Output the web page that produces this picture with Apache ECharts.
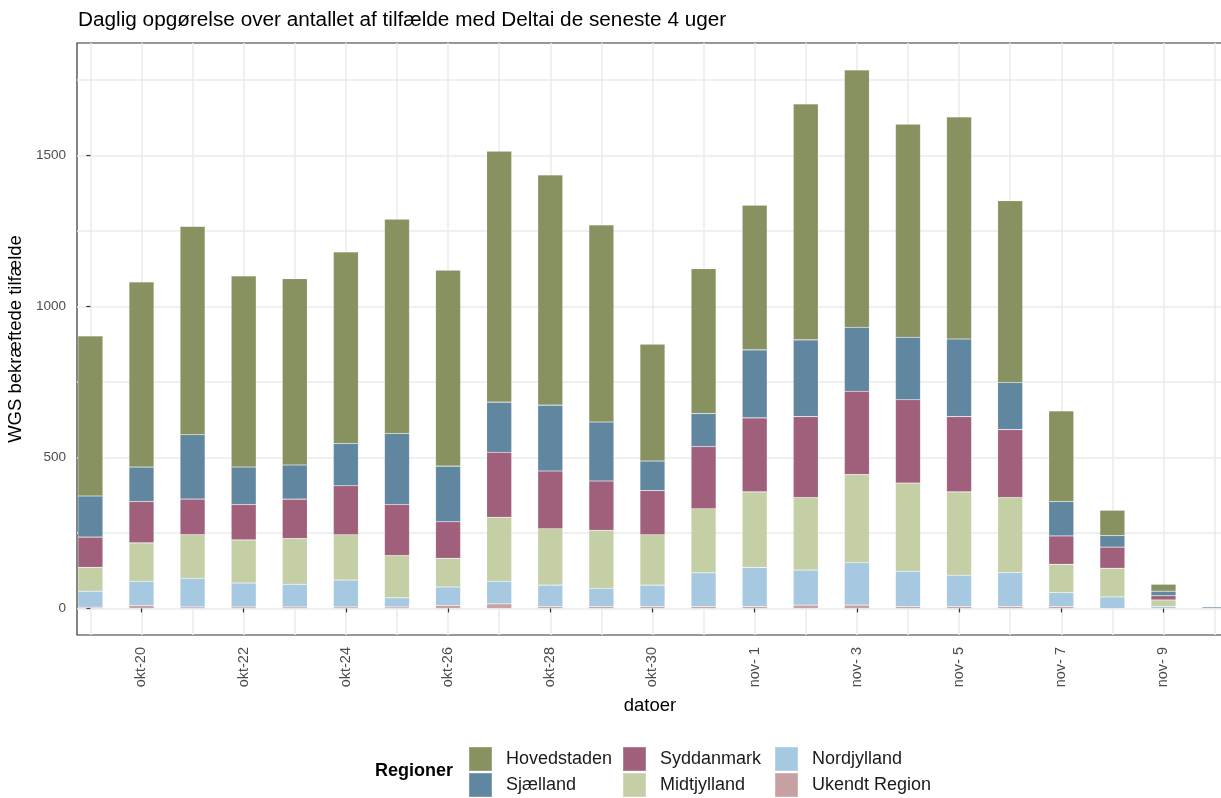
<!DOCTYPE html>
<html>
<head>
<meta charset="utf-8">
<script src="https://cdn.jsdelivr.net/npm/echarts@6/dist/echarts.min.js"></script>
<style>
html,body{margin:0;padding:0;background:#fff;}
#chart{width:1221px;height:798px;}
</style>
</head>
<body>
<div id="chart"></div>
<script>
// ---- data ----
var dates = ["okt-19","okt-20","okt-21","okt-22","okt-23","okt-24","okt-25","okt-26","okt-27","okt-28","okt-29","okt-30","okt-31",
             "nov- 1","nov- 2","nov- 3","nov- 4","nov- 5","nov- 6","nov- 7","nov- 8","nov- 9","nov-10"];
var tickLabels = ["okt-20","okt-22","okt-24","okt-26","okt-28","okt-30","nov- 1","nov- 3","nov- 5","nov- 7","nov- 9"];
var yTickValues = [0, 500, 1000, 1500];
var yGridValues = [0, 250, 500, 750, 1000, 1250, 1500, 1750];

var hovedstaden = [530,613,690,633,617,634,710,649,831,762,653,387,480,479,781,852,705,735,602,300,84,23,0];
var sjaelland   = [136,114,213,124,113,140,235,184,166,218,195,98,109,225,254,212,207,257,156,114,38,15,5];
var syddanmark  = [100,137,118,117,131,162,169,121,215,191,163,146,206,245,268,276,276,249,225,94,70,14,0];
var midtjylland = [79,127,144,143,151,150,140,95,212,187,192,167,212,250,240,292,292,276,248,94,95,22,0];
var nordjylland = [53,80,95,79,75,89,30,61,75,71,61,71,112,130,116,140,117,104,113,46,38,6,0];
var ukendt      = [4,10,5,5,5,5,5,10,15,6,6,6,6,6,11,11,6,6,6,6,0,0,0];

// ---- build ----
var xMin = -0.262, xMax = 22.165;
var dayIdx = dates.map(function(d, i){ return i; });
var tickIdx = tickLabels.map(function(t){ return dates.indexOf(t); });

var regions = [
  {name: "Ukendt Region", data: ukendt,      color: "#c6a0a3"},
  {name: "Nordjylland",   data: nordjylland, color: "#a6c8e0"},
  {name: "Midtjylland",   data: midtjylland, color: "#c5cfa6"},
  {name: "Syddanmark",    data: syddanmark,  color: "#a05f7b"},
  {name: "Sjælland",      data: sjaelland,   color: "#6086a0"},
  {name: "Hovedstaden",   data: hovedstaden, color: "#879260"}
];

// value first, day index second -> stacking happens on the value dimension (by index)
var series = regions.map(function(r){
  return {
    name: r.name,
    type: 'bar',
    stack: 'total',
    xAxisIndex: 0,
    yAxisIndex: 0,
    barWidth: 25,
    encode: {x: 1, y: 0},
    itemStyle: {color: r.color, borderColor: 'rgba(255,255,255,0.2)', borderWidth: 0.6},
    emphasis: {disabled: true},
    data: r.data.map(function(v, i){ return [v, i]; })
  };
});

var legendPos = {
  "Hovedstaden":   [468, 746],
  "Sjælland":      [468, 772],
  "Syddanmark":    [622, 746],
  "Midtjylland":   [622, 772],
  "Nordjylland":   [774, 746],
  "Ukendt Region": [774, 772]
};
var legends = Object.keys(legendPos).map(function(n){
  return {
    data: [n],
    left: legendPos[n][0],
    top: legendPos[n][1],
    padding: 0,
    icon: 'rect',
    itemWidth: 23,
    itemHeight: 24,
    selectedMode: false,
    textStyle: {fontSize: 18, color: '#1a1a1a', fontFamily: 'Liberation Sans', padding: [0,0,0,9]}
  };
});

var chart = echarts.init(document.getElementById('chart'), null, {renderer: 'canvas'});
chart.setOption({
  animation: false,
  backgroundColor: '#ffffff',
  textStyle: {fontFamily: 'Liberation Sans'},
  grid: {left: 77, top: 43, right: -2, bottom: 163, show: true, borderColor: '#333333', borderWidth: 1.2,
         backgroundColor: '#ffffff', containLabel: false, outerBoundsMode: 'none'},
  legend: legends,
  xAxis: [
    {
      type: 'value', min: xMin, max: xMax,
      axisLine: {show: false},
      axisTick: {show: false, customValues: dayIdx},
      axisLabel: {show: false},
      splitLine: {show: true, lineStyle: {color: '#ebebeb', width: 1.5}}
    },
    {
      type: 'value', min: xMin, max: xMax, position: 'bottom',
      name: 'datoer', nameLocation: 'middle', nameGap: 61,
      nameTextStyle: {fontSize: 18.5, color: '#000000', fontFamily: 'Liberation Sans'},
      axisLine: {show: false},
      axisTick: {show: true, customValues: tickIdx, length: 4, lineStyle: {color: '#333333', width: 1.2}},
      axisLabel: {show: true, customValues: tickIdx, rotate: 90, margin: 12, fontSize: 14.5, color: '#4d4d4d',
                  fontFamily: 'Liberation Sans',
                  formatter: function(v){ return dates[Math.round(v)]; }},
      splitLine: {show: false}
    }
  ],
  yAxis: [
    {
      type: 'value', min: -88, max: 1872,
      axisLine: {show: false},
      axisTick: {show: false, customValues: yGridValues},
      axisLabel: {show: false},
      splitLine: {show: true, lineStyle: {color: '#ebebeb', width: 1.5}}
    },
    {
      type: 'value', min: -88, max: 1872, position: 'left',
      name: 'WGS bekræftede tilfælde', nameLocation: 'middle', nameGap: 42,
      nameTextStyle: {fontSize: 18.5, color: '#000000', fontFamily: 'Liberation Sans'},
      axisLine: {show: false},
      axisTick: {show: true, customValues: yTickValues, length: 4, lineStyle: {color: '#333333', width: 1.2}},
      axisLabel: {show: true, customValues: yTickValues, margin: 11, fontSize: 13.5, color: '#4d4d4d',
                  fontFamily: 'Liberation Sans',
                  formatter: function(v){ return String(v); }},
      splitLine: {show: false}
    }
  ],
  graphic: [
    {type: 'text', left: 78, top: 10,
     style: {text: 'Daglig opgørelse over antallet af tilfælde med Deltai de seneste 4 uger',
             fontSize: 20.75, fill: '#000000', fontFamily: 'Liberation Sans'}},
    {type: 'text', left: 375, top: 762,
     style: {text: 'Regioner', fontSize: 18, fontWeight: 'bold', fill: '#000000', fontFamily: 'Liberation Sans'}}
  ],
  series: series
});
</script>
</body>
</html>
